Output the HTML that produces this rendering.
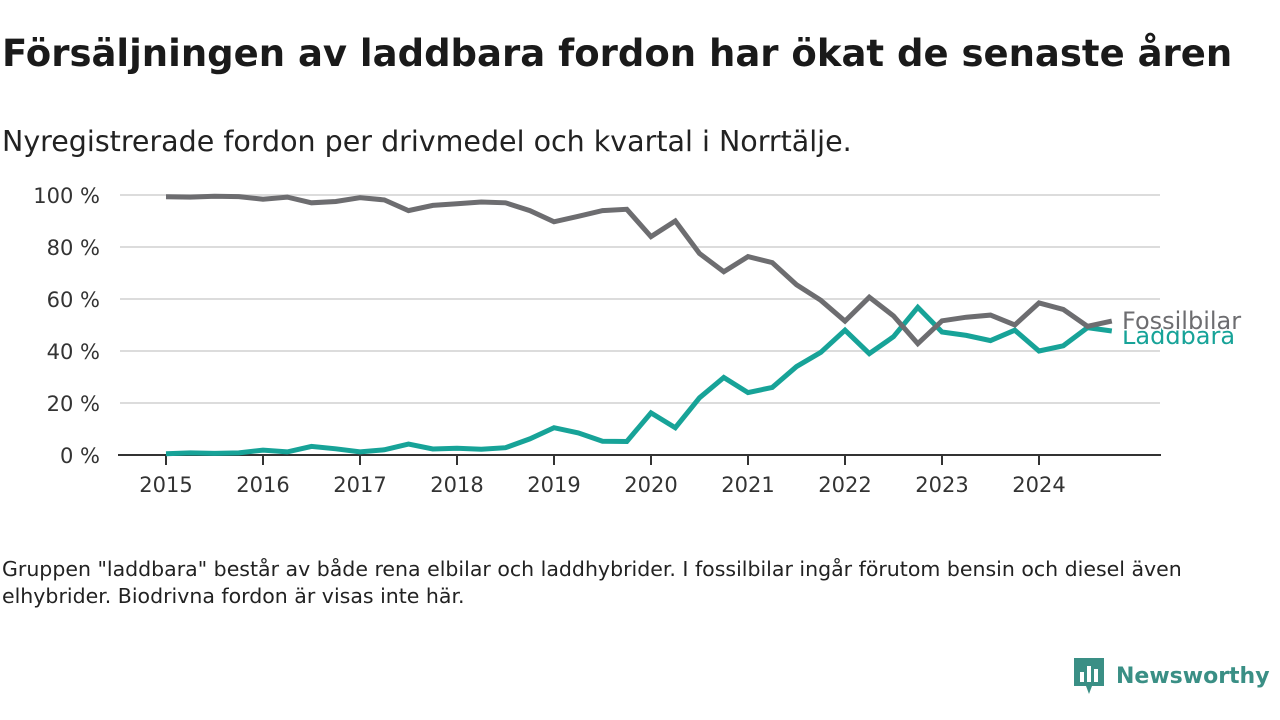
<!DOCTYPE html>
<html><head><meta charset="utf-8"><style>
body{margin:0;width:1280px;height:720px;background:#fff;font-family:"DejaVu Sans","Liberation Sans",sans-serif;color:#1a1a1a;position:relative;overflow:hidden}
h1{position:absolute;left:2px;top:32px;margin:0;font-size:37px;font-weight:bold;letter-spacing:0;white-space:nowrap}
.sub{position:absolute;left:2px;top:125px;font-size:28.5px;color:#222;white-space:nowrap}
.note{position:absolute;left:2px;top:556px;font-size:20.5px;line-height:27px;width:1230px;color:#222}
.logo{position:absolute;left:1072px;top:656px;display:flex;align-items:center;gap:10px;color:#3a8f85;font-size:22px;font-weight:bold}
</style></head><body>
<h1>Försäljningen av laddbara fordon har ökat de senaste åren</h1>
<div class="sub">Nyregistrerade fordon per drivmedel och kvartal i Norrtälje.</div>
<svg id="chart" width="1280" height="720" style="position:absolute;left:0;top:0"></svg>
<div class="note">Gruppen "laddbara" består av både rena elbilar och laddhybrider. I fossilbilar ingår förutom bensin och diesel även elhybrider. Biodrivna fordon är visas inte här.</div>
<div class="logo">
<svg width="34" height="40" viewBox="0 0 34 40"><path d="M2 2h30v28H20l-3 8-3-8H2z" fill="#3a8f85"/><rect x="8" y="16" width="4" height="10" fill="#fff"/><rect x="15" y="10" width="4" height="16" fill="#fff"/><rect x="22" y="13" width="4" height="13" fill="#fff"/></svg>
<span>Newsworthy</span></div>
<script>
const years=[2015,2016,2017,2018,2019,2020,2021,2022,2023,2024];
const yTicks=[0,20,40,60,80,100];
const fossil=[99.3,99.2,99.5,99.4,98.4,99.2,97,97.5,99,98.1,94,96,96.6,97.3,97,94,89.7,91.8,94,94.5,84,90,77.5,70.5,76.3,74,65.5,59.5,51.5,60.7,53.5,42.8,51.6,53,53.8,50,58.5,56,49.5,51.5];
const laddbara=[0.5,0.8,0.6,0.8,1.9,1.2,3.3,2.4,1.2,2,4.2,2.3,2.6,2.2,2.8,6.2,10.5,8.5,5.3,5.2,16.2,10.5,22,29.8,24,26,34,39.5,48,39,45.5,56.8,47.3,46,44,48,40,42,49,47.7];
const svg=document.getElementById('chart');const NS='http://www.w3.org/2000/svg';
const FF='DejaVu Sans, Liberation Sans, sans-serif';
const x=t=>166+(t-2015)*97;const y=v=>455-v*2.6;
function mk(tag,a){const e=document.createElementNS(NS,tag);for(const k in a)e.setAttribute(k,a[k]);svg.appendChild(e);return e;}
yTicks.forEach(v=>{
 if(v>0){const g=mk('line',{x1:120,x2:1160,y1:y(v),y2:y(v),stroke:'#dcdcdc','stroke-width':2});
 
 }
 const t=mk('text',{x:100,y:y(v)+8,'text-anchor':'end','font-size':21,fill:'#333','font-family':FF});t.textContent=v+' %';
 
 
});
const ax=mk('line',{x1:118,x2:1161,y1:455,y2:455,stroke:'#333','stroke-width':2});


years.forEach(yr=>{
 const tk=mk('line',{x1:x(yr),x2:x(yr),y1:455,y2:465,stroke:'#333','stroke-width':2});
 
 
 const t=mk('text',{x:x(yr),y:492,'text-anchor':'middle','font-size':21,fill:'#333','font-family':FF});t.textContent=yr;
 
 
});
function line(data,color,name){
 const d=data.map((v,i)=>(i?'L':'M')+x(2015+i/4).toFixed(1)+','+y(v).toFixed(1)).join('');
 const p=mk('path',{d:d,fill:'none',stroke:color,'stroke-width':5,'stroke-linejoin':'miter'});
 
 
}
const lt=mk('text',{x:1122,y:y(laddbara[39])+13,'font-size':24,fill:'#17a398','font-family':FF});lt.textContent='Laddbara';


line(laddbara,'#17a398','laddbara-line');
const ft=mk('text',{x:1122,y:y(fossil[39])+8,'font-size':24,fill:'#6d6d70','font-family':FF,stroke:'#fff','stroke-width':3,'paint-order':'stroke'});ft.textContent='Fossilbilar';


line(fossil,'#6d6d70','fossilbilar-line');
</script>
</body></html>
